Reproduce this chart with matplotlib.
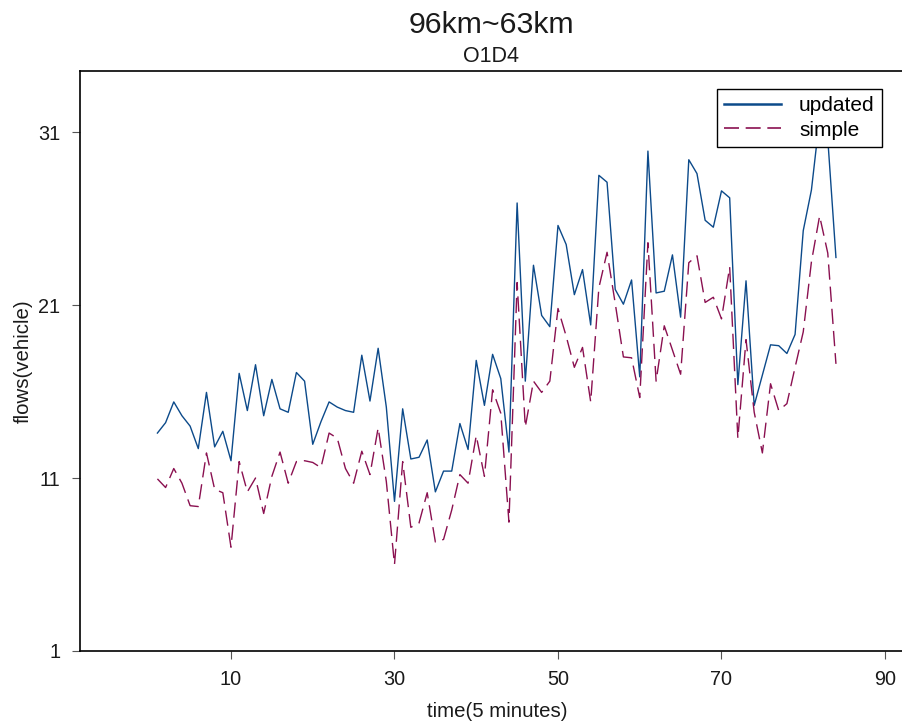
import matplotlib
matplotlib.use("Agg")
import matplotlib.pyplot as plt
from matplotlib.lines import Line2D

# ─── Data ──────────────────────────────────────
time = list(range(1, 85))

updated = [
    13.6, 14.2, 15.4, 14.6, 14.0, 12.7, 15.95, 12.8, 13.7, 12.0,
    17.05, 14.9, 17.55, 14.6, 16.7, 15.0, 14.8, 17.1, 16.6, 12.95,
    14.25, 15.4, 15.1, 14.9, 14.8, 18.1, 15.45, 18.5, 15.1, 9.65,
    15.0, 12.1, 12.2, 13.2, 10.2, 11.4, 11.4, 14.15, 12.65, 17.8,
    15.2, 18.15, 16.75, 12.5, 26.9, 16.6, 23.3, 20.4, 19.75, 25.6,
    24.5, 21.6, 23.05, 19.85, 28.5, 28.1, 21.9, 21.05, 22.45, 16.85,
    29.9, 21.7, 21.8, 23.9, 20.3, 29.4, 28.6, 25.9, 25.5, 27.6,
    27.2, 16.4, 22.4, 15.2, 16.95, 18.7, 18.65, 18.2, 19.3, 25.3,
    27.65, 31.8, 30.6, 23.75,
]

simple = [
    10.95, 10.45, 11.55, 10.7, 9.4, 9.35, 12.45, 10.35, 10.15, 7.0,
    11.95, 10.2, 11.0, 8.95, 11.1, 12.5, 10.7, 11.95, 12.0, 11.9,
    11.6, 13.6, 13.3, 11.55, 10.7, 12.55, 11.2, 13.9, 10.8, 6.0,
    11.95, 8.15, 8.4, 10.15, 7.3, 7.45, 9.15, 11.2, 10.7, 13.45,
    11.1, 16.1, 14.75, 8.45, 22.3, 13.95, 16.6, 15.95, 16.6, 20.8,
    19.2, 17.4, 18.55, 15.4, 22.0, 24.05, 21.1, 18.0, 17.95, 15.65,
    24.6, 16.6, 19.8, 18.4, 17.0, 23.45, 23.85, 21.15, 21.45, 20.2,
    23.2, 13.3, 19.0, 14.8, 12.45, 16.45, 14.9, 15.3, 17.4, 19.45,
    23.5, 26.15, 24.0, 17.6,
]

x_ticks = [10, 30, 50, 70, 90]
y_ticks = [1, 11, 21, 31]

# ─── Style ──────────────────────────────────────
COLOR_UPDATED = "#0c4a8a"
COLOR_SIMPLE = "#8a1050"
TEXT_COLOR = "#1a1a1a"
TICK_COLOR = "#555555"

plt.rcParams["font.family"] = ["Liberation Sans", "DejaVu Sans"]

W, H = 903, 728
fig = plt.figure(figsize=(W / 100, H / 100), dpi=100)

# Axes box in pixels: left 80, top 71, bottom 651, right beyond the image
left, top, bottom, right = 80, 71, 651, 915
ax = fig.add_axes([left / W, 1 - bottom / H, (right - left) / W, (bottom - top) / H])

ax.plot(time, updated, color=COLOR_UPDATED, linewidth=1.0, zorder=3)
ax.plot(time, simple, color=COLOR_SIMPLE, linewidth=1.0,
        linestyle=(0, (11, 5)), zorder=3)

ax.set_xlim(-8.47, (right - 149.25) / 8.175)
ax.set_ylim(1, 34.53)
ax.set_xticks(x_ticks)
ax.set_yticks(y_ticks)
ax.tick_params(axis="both", direction="out", length=6, width=0.8,
               color=TICK_COLOR, labelsize=14.3, labelcolor=TEXT_COLOR, pad=8)

for spine in ax.spines.values():
    spine.set_linewidth(1.2)
    spine.set_color("black")

ax.set_xlabel("time(5 minutes)", fontsize=14.7, color=TEXT_COLOR, labelpad=9)
ax.set_ylabel("flows(vehicle)", fontsize=14.7, color=TEXT_COLOR, labelpad=4)

# Titles
fig.text((80 + 903) / 2 / W, 1 - 25 / H, "96km~63km", ha="center", va="center",
         fontsize=21.8, color=TEXT_COLOR)
fig.text((80 + 903) / 2 / W, 1 - 57 / H, "O1D4", ha="center", va="center",
         fontsize=15.5, color=TEXT_COLOR)

# Legend
handles = [
    Line2D([], [], color=COLOR_UPDATED, linewidth=1.8, label="updated"),
    Line2D([], [], color=COLOR_SIMPLE, linewidth=1.2, linestyle=(0, (9, 4)),
           label="simple"),
]
leg = ax.legend(handles=handles, loc="upper right",
                bbox_to_anchor=((882 - left) / (right - left), 1 - (89 - top) / (bottom - top)),
                fontsize=15, frameon=True, fancybox=False, framealpha=1,
                edgecolor="black", borderpad=0.35, labelspacing=0.25,
                handlelength=2.75, handletextpad=0.85, borderaxespad=0)
leg.get_frame().set_linewidth(1.0)
leg.set_zorder(5)

fig.savefig("out.png", dpi=100, facecolor="white")
